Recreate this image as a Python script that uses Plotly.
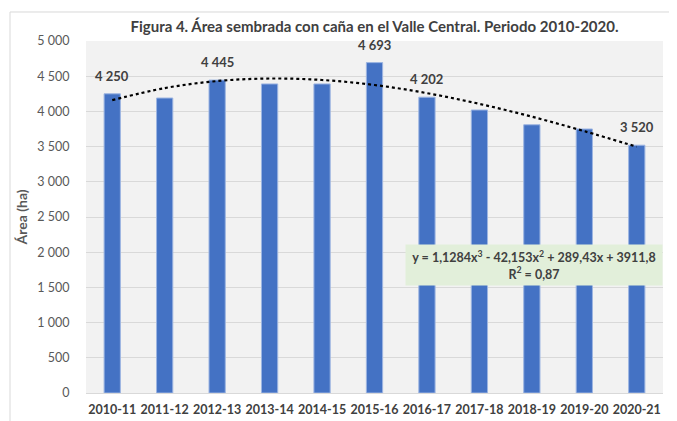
import plotly.graph_objects as go

categories = ["2010-11", "2011-12", "2012-13", "2013-14", "2014-15", "2015-16",
              "2016-17", "2017-18", "2018-19", "2019-20", "2020-21"]
area_ha = [4250, 4190, 4445, 4390, 4390, 4693, 4202, 4020, 3810, 3750, 3520]
label_texts = ["4 250", None, "4 445", None, None, "4 693", "4 202", None, None, None, "3 520"]
# cubic trend line values
trend_ha = [4160, 4331, 4431, 4467, 4446, 4375, 4259, 4107, 3925, 3719, 3497]
y_ticks = [0, 500, 1000, 1500, 2000, 2500, 3000, 3500, 4000, 4500, 5000]
y_tick_text = ["0", "500", "1 000", "1 500", "2 000", "2 500", "3 000", "3 500", "4 000", "4 500", "5 000"]

title_text = "Figura 4. Área sembrada con caña en el Valle Central. Periodo 2010-2020."
equation_text = "y = 1,1284x<sup>3</sup> - 42,153x<sup>2</sup> + 289,43x + 3911,8<br>R<sup>2</sup> = 0,87"

FONT = "Lato"
TXT = "#404040"

fig = go.Figure()
fig.add_trace(go.Bar(
    x=categories, y=area_ha, width=0.31,
    marker=dict(color="#4472C4", line=dict(color="#9DB5E2", width=1)),
    hoverinfo="x+y", showlegend=False,
))
fig.add_trace(go.Scatter(
    x=categories, y=trend_ha, mode="lines",
    line=dict(color="#000000", width=2.2, dash="dot", shape="spline", smoothing=1.0),
    showlegend=False, hoverinfo="skip",
))

for c, v, t in zip(categories, area_ha, label_texts):
    if t:
        fig.add_annotation(x=c, y=v, text=t, showarrow=False, yanchor="bottom",
                           yshift=8, font=dict(family=FONT, size=13, color=TXT, weight="bold"))

fig.add_annotation(xref="paper", yref="paper", x=0.776, y=0.364, xanchor="center", yanchor="middle",
                   text=equation_text,
                   showarrow=False, bgcolor="#E2EFDA", borderpad=3, width=250,
                   font=dict(family=FONT, size=12.5, color=TXT, weight="bold"), align="center")

fig.add_shape(type="rect", xref="paper", yref="paper", x0=-0.1317, x1=1.0225, y0=-0.1, y1=1.0824,
              line=dict(color="#D9D9D9", width=1), fillcolor="rgba(0,0,0,0)", layer="below")

fig.update_layout(
    width=669, height=413,
    margin=dict(l=78, r=14, t=33, b=28),
    paper_bgcolor="white", plot_bgcolor="#F2F2F2",
    title=dict(text=title_text, x=0.5, xref="paper", xanchor="center", y=0.954, yanchor="middle",
               font=dict(family=FONT, size=15, color=TXT, weight="bold")),
    font=dict(family=FONT, color=TXT),
    bargap=0.69,
)
fig.update_xaxes(
    type="category", showgrid=False, showline=True, linecolor="#D9D9D9", linewidth=1,
    ticks="outside", ticklen=5, tickcolor="rgba(0,0,0,0)", automargin=False,
    tickfont=dict(family=FONT, size=12.5, color=TXT, weight="bold"),
)
fig.update_yaxes(
    range=[0, 5000], tickvals=y_ticks, ticktext=y_tick_text, automargin=False,
    showgrid=True, gridcolor="#D9D9D9", gridwidth=1, zeroline=False,
    ticks="outside", ticklen=13, tickcolor="rgba(0,0,0,0)",
    tickfont=dict(family=FONT, size=12.5, color="#595959"),
    title=dict(text="Área (ha)", standoff=6, font=dict(family=FONT, size=14, color="#595959", weight="bold")),
)

fig.write_html("out.html")
